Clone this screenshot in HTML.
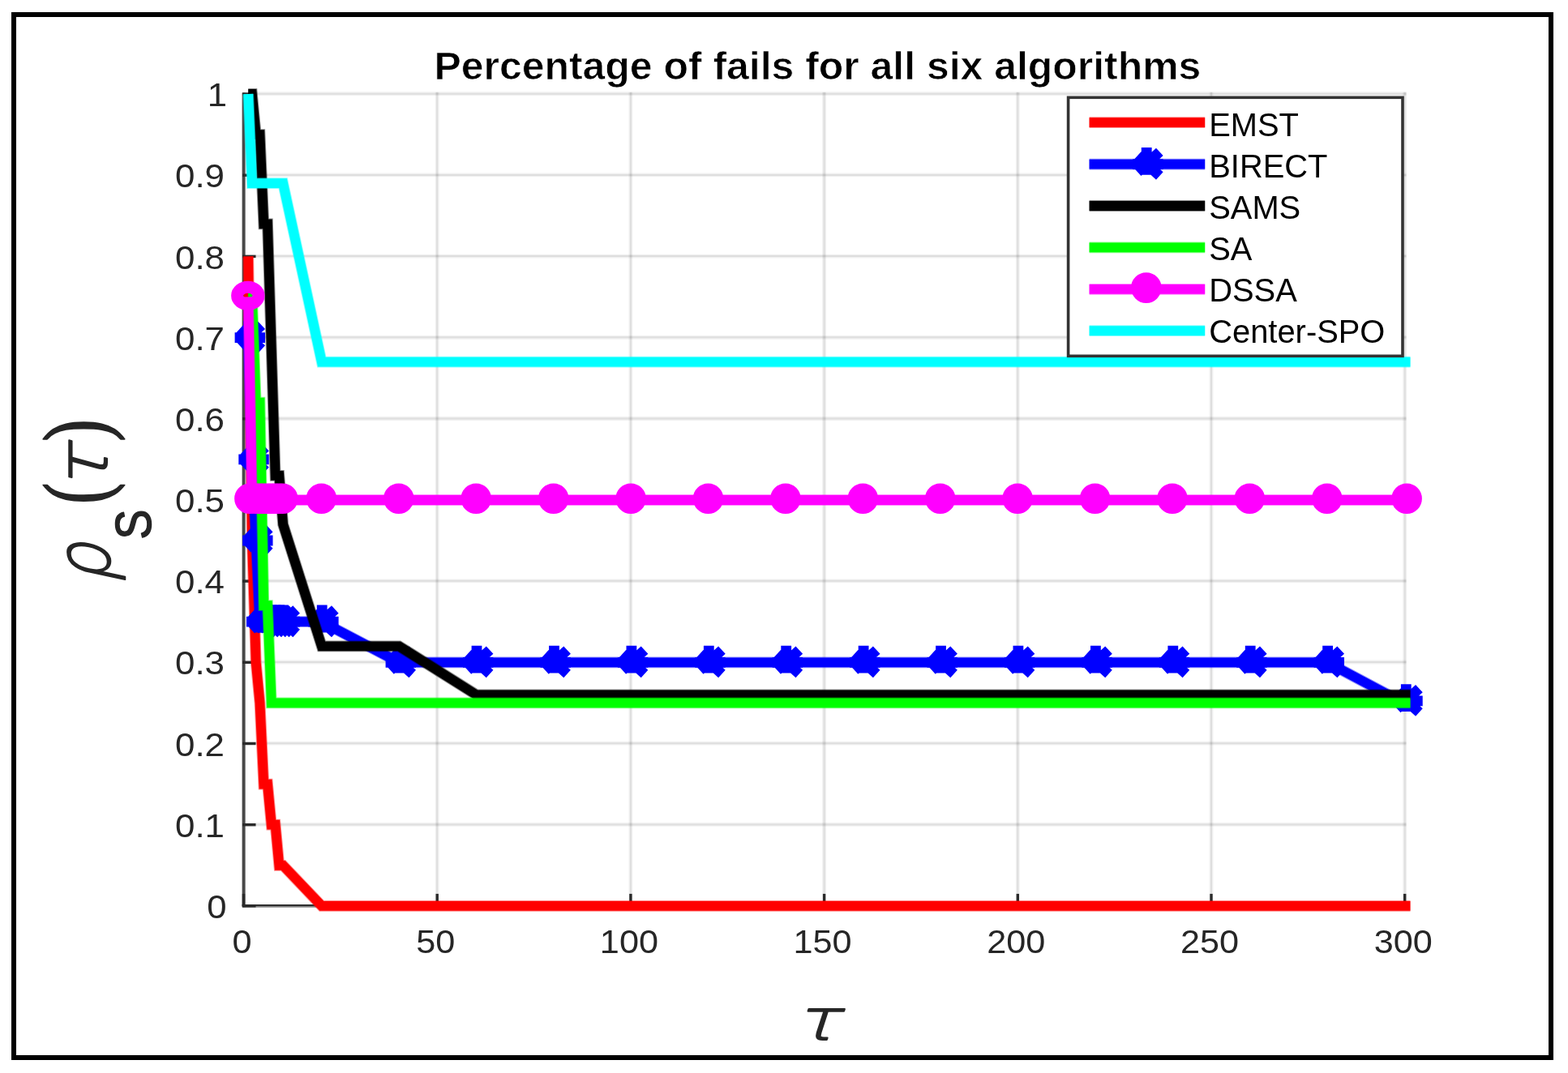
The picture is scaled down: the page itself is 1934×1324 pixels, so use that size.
<!DOCTYPE html>
<html lang="en"><head><meta charset="utf-8">
<title>Percentage of fails for all six algorithms</title>
<style>
html,body{margin:0;padding:0;background:#fff;}
body{width:1934px;height:1324px;overflow:hidden;}
svg{display:block;}
text{font-family:"Liberation Sans",Arial,Helvetica,sans-serif;}
.tick{font-size:40.4px;fill:#262626;}
.leg{font-size:40px;fill:#000;}
.title{font-size:49px;font-weight:bold;fill:#000;stroke:#fff;stroke-width:.7px;}
.ms{font-family:"Liberation Serif","DejaVu Serif",serif;}
.ml{font-family:"DejaVu Sans Light","DejaVu Sans ExtraLight","Liberation Serif","DejaVu Serif",serif;font-weight:200;}
.sub{font-family:"Liberation Sans",Arial,Helvetica,sans-serif;}
.ln{fill:none;stroke-width:13.8;stroke-opacity:.45;stroke-linejoin:miter;stroke-miterlimit:10;stroke-linecap:butt;}
.li{fill:none;stroke-width:11.8;stroke-linejoin:miter;stroke-miterlimit:10;stroke-linecap:butt;}
</style></head><body>
<svg width="1934" height="1324" viewBox="0 0 1934 1324" role="img" aria-label="Percentage of fails for all six algorithms">
<rect x="0" y="0" width="1934" height="1324" fill="#fff"/>
<rect x="17" y="18" width="1896" height="1287" fill="none" stroke="#000" stroke-width="6"/>
<g stroke="#000" stroke-opacity="0.06" stroke-width="4.8" fill="none">
<line x1="539.2" y1="113.8" x2="539.2" y2="1117.9"/>
<line x1="777.9" y1="113.8" x2="777.9" y2="1117.9"/>
<line x1="1016.6" y1="113.8" x2="1016.6" y2="1117.9"/>
<line x1="1255.3" y1="113.8" x2="1255.3" y2="1117.9"/>
<line x1="1494.0" y1="113.8" x2="1494.0" y2="1117.9"/>
<line x1="1732.7" y1="113.8" x2="1732.7" y2="1117.9"/>
<line x1="300.5" y1="1017.4" x2="1734.6" y2="1017.4"/>
<line x1="300.5" y1="917.2" x2="1734.6" y2="917.2"/>
<line x1="300.5" y1="817.0" x2="1734.6" y2="817.0"/>
<line x1="300.5" y1="716.8" x2="1734.6" y2="716.8"/>
<line x1="300.5" y1="616.7" x2="1734.6" y2="616.7"/>
<line x1="300.5" y1="516.5" x2="1734.6" y2="516.5"/>
<line x1="300.5" y1="416.3" x2="1734.6" y2="416.3"/>
<line x1="300.5" y1="316.1" x2="1734.6" y2="316.1"/>
<line x1="300.5" y1="215.9" x2="1734.6" y2="215.9"/>
<line x1="300.5" y1="115.7" x2="1734.6" y2="115.7"/>
</g>
<g stroke="#000" stroke-opacity="0.075" stroke-width="2.0" fill="none">
<line x1="539.2" y1="113.8" x2="539.2" y2="1117.9"/>
<line x1="777.9" y1="113.8" x2="777.9" y2="1117.9"/>
<line x1="1016.6" y1="113.8" x2="1016.6" y2="1117.9"/>
<line x1="1255.3" y1="113.8" x2="1255.3" y2="1117.9"/>
<line x1="1494.0" y1="113.8" x2="1494.0" y2="1117.9"/>
<line x1="1732.7" y1="113.8" x2="1732.7" y2="1117.9"/>
<line x1="300.5" y1="1017.4" x2="1734.6" y2="1017.4"/>
<line x1="300.5" y1="917.2" x2="1734.6" y2="917.2"/>
<line x1="300.5" y1="817.0" x2="1734.6" y2="817.0"/>
<line x1="300.5" y1="716.8" x2="1734.6" y2="716.8"/>
<line x1="300.5" y1="616.7" x2="1734.6" y2="616.7"/>
<line x1="300.5" y1="516.5" x2="1734.6" y2="516.5"/>
<line x1="300.5" y1="416.3" x2="1734.6" y2="416.3"/>
<line x1="300.5" y1="316.1" x2="1734.6" y2="316.1"/>
<line x1="300.5" y1="215.9" x2="1734.6" y2="215.9"/>
<line x1="300.5" y1="115.7" x2="1734.6" y2="115.7"/>
</g>
<line x1="300.6" y1="114.5" x2="300.6" y2="1119.5" stroke="#484848" stroke-width="4"/>
<line x1="298.6" y1="1117.0" x2="1734.5" y2="1117.0" stroke="#2e2e2e" stroke-width="2"/>
<line x1="299.6" y1="1118.8" x2="1734.5" y2="1118.8" stroke="#808080" stroke-width="1.7"/>
<g stroke="#2a2a2a" stroke-width="3.4" fill="none">
<line x1="300.5" y1="1118.9" x2="300.5" y2="1102.9"/>
<line x1="539.2" y1="1118.9" x2="539.2" y2="1102.9"/>
<line x1="777.9" y1="1118.9" x2="777.9" y2="1102.9"/>
<line x1="1016.6" y1="1118.9" x2="1016.6" y2="1102.9"/>
<line x1="1255.3" y1="1118.9" x2="1255.3" y2="1102.9"/>
<line x1="1494.0" y1="1118.9" x2="1494.0" y2="1102.9"/>
<line x1="1732.7" y1="1118.9" x2="1732.7" y2="1102.9"/>
<line x1="299.0" y1="1117.9" x2="315.5" y2="1117.9"/>
<line x1="299.0" y1="1017.7" x2="315.5" y2="1017.7"/>
<line x1="299.0" y1="917.5" x2="315.5" y2="917.5"/>
<line x1="299.0" y1="817.3" x2="315.5" y2="817.3"/>
<line x1="299.0" y1="717.1" x2="315.5" y2="717.1"/>
<line x1="299.0" y1="617.0" x2="315.5" y2="617.0"/>
<line x1="299.0" y1="516.8" x2="315.5" y2="516.8"/>
<line x1="299.0" y1="416.6" x2="315.5" y2="416.6"/>
<line x1="299.0" y1="316.4" x2="315.5" y2="316.4"/>
<line x1="299.0" y1="216.2" x2="315.5" y2="216.2"/>
<line x1="299.0" y1="116.0" x2="315.5" y2="116.0"/>
</g>
<polyline class="ln" stroke="#ff0000" points="306.2,316.4 310.9,667.0 315.7,817.3 320.5,867.4 325.3,967.6 330.0,967.6 334.8,1017.7 339.6,1017.7 344.3,1067.8 349.1,1067.8 396.8,1117.9 1739.5,1117.9"/>
<polyline class="li" stroke="#ff0000" points="306.2,316.4 310.9,667.0 315.7,817.3 320.5,867.4 325.3,967.6 330.0,967.6 334.8,1017.7 339.6,1017.7 344.3,1067.8 349.1,1067.8 396.8,1117.9 1739.5,1117.9"/>
<polyline class="ln" stroke="#0000ff" points="306.2,416.6 310.9,566.9 315.7,667.0 320.5,767.2 396.8,767.2 492.2,817.3 1637.2,817.3 1731.2,867.4"/>
<polyline class="li" stroke="#0000ff" points="306.2,416.6 310.9,566.9 315.7,667.0 320.5,767.2 396.8,767.2 492.2,817.3 1637.2,817.3 1731.2,867.4"/>
<g>
<path d="M306.6 396.0V429.8M289.6 416.6H327.0M295.5 406.1L322.7 430.9M295.5 426.3L322.7 401.4" stroke="#0000ff" stroke-width="12.8" fill="none"/>
<path d="M311.3 546.3V580.1M294.3 566.9H331.7M300.2 556.4L327.4 581.2M300.2 576.6L327.4 551.7" stroke="#0000ff" stroke-width="12.8" fill="none"/>
<path d="M316.1 646.4V680.2M299.1 667.0H336.5M305.0 656.5L332.2 681.3M305.0 676.7L332.2 651.8" stroke="#0000ff" stroke-width="12.8" fill="none"/>
<path d="M320.9 746.6V780.4M303.9 767.2H341.3M309.8 756.7L337.0 781.5M309.8 776.9L337.0 752.0" stroke="#0000ff" stroke-width="12.8" fill="none"/>
<path d="M325.7 746.6V780.4M308.7 767.2H346.1M314.6 756.7L341.8 781.5M314.6 776.9L341.8 752.0" stroke="#0000ff" stroke-width="12.8" fill="none"/>
<path d="M330.4 746.6V780.4M313.4 767.2H350.8M319.3 756.7L346.5 781.5M319.3 776.9L346.5 752.0" stroke="#0000ff" stroke-width="12.8" fill="none"/>
<path d="M335.2 746.6V780.4M318.2 767.2H355.6M324.1 756.7L351.3 781.5M324.1 776.9L351.3 752.0" stroke="#0000ff" stroke-width="12.8" fill="none"/>
<path d="M340.0 746.6V780.4M323.0 767.2H360.4M328.9 756.7L356.1 781.5M328.9 776.9L356.1 752.0" stroke="#0000ff" stroke-width="12.8" fill="none"/>
<path d="M344.7 746.6V780.4M327.7 767.2H365.1M333.6 756.7L360.8 781.5M333.6 776.9L360.8 752.0" stroke="#0000ff" stroke-width="12.8" fill="none"/>
<path d="M349.5 746.6V780.4M332.5 767.2H369.9M338.4 756.7L365.6 781.5M338.4 776.9L365.6 752.0" stroke="#0000ff" stroke-width="12.8" fill="none"/>
<path d="M397.2 746.6V780.4M380.2 767.2H417.6M386.1 756.7L413.3 781.5M386.1 776.9L413.3 752.0" stroke="#0000ff" stroke-width="12.8" fill="none"/>
<path d="M492.6 796.7V830.5M475.6 817.3H513.0M481.5 806.8L508.7 831.6M481.5 827.0L508.7 802.1" stroke="#0000ff" stroke-width="12.8" fill="none"/>
<path d="M588.0 796.7V830.5M571.0 817.3H608.4M576.9 806.8L604.1 831.6M576.9 827.0L604.1 802.1" stroke="#0000ff" stroke-width="12.8" fill="none"/>
<path d="M683.5 796.7V830.5M666.5 817.3H703.9M672.4 806.8L699.6 831.6M672.4 827.0L699.6 802.1" stroke="#0000ff" stroke-width="12.8" fill="none"/>
<path d="M778.9 796.7V830.5M761.9 817.3H799.3M767.8 806.8L795.0 831.6M767.8 827.0L795.0 802.1" stroke="#0000ff" stroke-width="12.8" fill="none"/>
<path d="M874.3 796.7V830.5M857.3 817.3H894.7M863.2 806.8L890.4 831.6M863.2 827.0L890.4 802.1" stroke="#0000ff" stroke-width="12.8" fill="none"/>
<path d="M969.7 796.7V830.5M952.7 817.3H990.1M958.6 806.8L985.8 831.6M958.6 827.0L985.8 802.1" stroke="#0000ff" stroke-width="12.8" fill="none"/>
<path d="M1065.1 796.7V830.5M1048.1 817.3H1085.5M1054.0 806.8L1081.2 831.6M1054.0 827.0L1081.2 802.1" stroke="#0000ff" stroke-width="12.8" fill="none"/>
<path d="M1160.5 796.7V830.5M1143.5 817.3H1180.9M1149.4 806.8L1176.6 831.6M1149.4 827.0L1176.6 802.1" stroke="#0000ff" stroke-width="12.8" fill="none"/>
<path d="M1255.9 796.7V830.5M1238.9 817.3H1276.3M1244.8 806.8L1272.0 831.6M1244.8 827.0L1272.0 802.1" stroke="#0000ff" stroke-width="12.8" fill="none"/>
<path d="M1351.4 796.7V830.5M1334.4 817.3H1371.8M1340.3 806.8L1367.5 831.6M1340.3 827.0L1367.5 802.1" stroke="#0000ff" stroke-width="12.8" fill="none"/>
<path d="M1446.8 796.7V830.5M1429.8 817.3H1467.2M1435.7 806.8L1462.9 831.6M1435.7 827.0L1462.9 802.1" stroke="#0000ff" stroke-width="12.8" fill="none"/>
<path d="M1542.2 796.7V830.5M1525.2 817.3H1562.6M1531.1 806.8L1558.3 831.6M1531.1 827.0L1558.3 802.1" stroke="#0000ff" stroke-width="12.8" fill="none"/>
<path d="M1637.6 796.7V830.5M1620.6 817.3H1658.0M1626.5 806.8L1653.7 831.6M1626.5 827.0L1653.7 802.1" stroke="#0000ff" stroke-width="12.8" fill="none"/>
<path d="M1734.3 844.2V878.0M1717.3 864.8H1754.7M1723.2 854.3L1750.4 879.1M1723.2 874.5L1750.4 849.6" stroke="#0000ff" stroke-width="12.8" fill="none"/>
</g>
<polyline class="ln" stroke="#000000" points="306.2,116.0 310.9,116.0 315.7,166.1 320.5,166.1 325.3,276.3 330.0,276.3 334.8,431.6 339.6,586.9 344.3,586.9 349.1,647.0 396.8,797.3 492.2,797.3 587.6,857.4 1739.5,857.4"/>
<polyline class="li" stroke="#000000" points="306.2,116.0 310.9,116.0 315.7,166.1 320.5,166.1 325.3,276.3 330.0,276.3 334.8,431.6 339.6,586.9 344.3,586.9 349.1,647.0 396.8,797.3 492.2,797.3 587.6,857.4 1739.5,857.4"/>
<polyline class="ln" stroke="#00ff00" points="306.2,366.5 310.9,366.5 315.7,496.7 320.5,496.7 325.3,747.2 330.0,747.2 334.8,867.4 1739.5,867.4"/>
<polyline class="li" stroke="#00ff00" points="306.2,366.5 310.9,366.5 315.7,496.7 320.5,496.7 325.3,747.2 330.0,747.2 334.8,867.4 1739.5,867.4"/>
<polyline class="ln" stroke="#ff00ff" points="306.2,366.5 310.9,617.0 1739.5,617.0"/>
<polyline class="li" stroke="#ff00ff" points="306.2,366.5 310.9,617.0 1739.5,617.0"/>
<g>
<ellipse cx="305.8" cy="364.8" rx="13.2" ry="10.6" fill="none" stroke="#ff00ff" stroke-width="15"/>
<circle cx="307.9" cy="615.2" r="10.6" fill="none" stroke="#ff00ff" stroke-width="16.4"/>
<circle cx="315.3" cy="615.2" r="10.6" fill="none" stroke="#ff00ff" stroke-width="16.4"/>
<circle cx="320.1" cy="615.2" r="10.6" fill="none" stroke="#ff00ff" stroke-width="16.4"/>
<circle cx="324.9" cy="615.2" r="10.6" fill="none" stroke="#ff00ff" stroke-width="16.4"/>
<circle cx="329.6" cy="615.2" r="10.6" fill="none" stroke="#ff00ff" stroke-width="16.4"/>
<circle cx="334.4" cy="615.2" r="10.6" fill="none" stroke="#ff00ff" stroke-width="16.4"/>
<circle cx="339.2" cy="615.2" r="10.6" fill="none" stroke="#ff00ff" stroke-width="16.4"/>
<circle cx="343.9" cy="615.2" r="10.6" fill="none" stroke="#ff00ff" stroke-width="16.4"/>
<circle cx="348.7" cy="615.2" r="10.6" fill="none" stroke="#ff00ff" stroke-width="16.4"/>
<circle cx="396.4" cy="615.2" r="10.6" fill="none" stroke="#ff00ff" stroke-width="16.4"/>
<circle cx="491.8" cy="615.2" r="10.6" fill="none" stroke="#ff00ff" stroke-width="16.4"/>
<circle cx="587.2" cy="615.2" r="10.6" fill="none" stroke="#ff00ff" stroke-width="16.4"/>
<circle cx="682.7" cy="615.2" r="10.6" fill="none" stroke="#ff00ff" stroke-width="16.4"/>
<circle cx="778.1" cy="615.2" r="10.6" fill="none" stroke="#ff00ff" stroke-width="16.4"/>
<circle cx="873.5" cy="615.2" r="10.6" fill="none" stroke="#ff00ff" stroke-width="16.4"/>
<circle cx="968.9" cy="615.2" r="10.6" fill="none" stroke="#ff00ff" stroke-width="16.4"/>
<circle cx="1064.3" cy="615.2" r="10.6" fill="none" stroke="#ff00ff" stroke-width="16.4"/>
<circle cx="1159.7" cy="615.2" r="10.6" fill="none" stroke="#ff00ff" stroke-width="16.4"/>
<circle cx="1255.1" cy="615.2" r="10.6" fill="none" stroke="#ff00ff" stroke-width="16.4"/>
<circle cx="1350.6" cy="615.2" r="10.6" fill="none" stroke="#ff00ff" stroke-width="16.4"/>
<circle cx="1446.0" cy="615.2" r="10.6" fill="none" stroke="#ff00ff" stroke-width="16.4"/>
<circle cx="1541.4" cy="615.2" r="10.6" fill="none" stroke="#ff00ff" stroke-width="16.4"/>
<circle cx="1636.8" cy="615.2" r="10.6" fill="none" stroke="#ff00ff" stroke-width="16.4"/>
<circle cx="1735.1" cy="615.2" r="10.6" fill="none" stroke="#ff00ff" stroke-width="16.4"/>
</g>
<polyline class="ln" stroke="#00ffff" points="306.2,116.0 310.9,226.2 349.1,226.2 396.8,446.6 1739.5,446.6"/>
<polyline class="li" stroke="#00ffff" points="306.2,116.0 310.9,226.2 349.1,226.2 396.8,446.6 1739.5,446.6"/>
<rect x="1317.6" y="120.3" width="412.4" height="319.0" fill="#fff" stroke="#333" stroke-width="3.6"/>
<path class="ln" d="M1343.6 151.2H1486.2" stroke="#ff0000"/>
<path class="li" d="M1343.6 151.2H1486.2" stroke="#ff0000"/>
<text class="leg" transform="translate(1491.2 168.0) scale(0.997 1)" text-anchor="start">EMST</text>
<path class="ln" d="M1343.6 202.6H1486.2" stroke="#0000ff"/>
<path class="li" d="M1343.6 202.6H1486.2" stroke="#0000ff"/>
<path d="M1414.2 182.0V215.8M1397.2 202.6H1434.6M1403.1 192.1L1430.3 216.9M1403.1 212.3L1430.3 187.4" stroke="#0000ff" stroke-width="12.8" fill="none"/>
<text class="leg" transform="translate(1491.2 219.0) scale(0.997 1)" text-anchor="start">BIRECT</text>
<path class="ln" d="M1343.6 254.0H1486.2" stroke="#000000"/>
<path class="li" d="M1343.6 254.0H1486.2" stroke="#000000"/>
<text class="leg" transform="translate(1491.2 270.0) scale(0.997 1)" text-anchor="start">SAMS</text>
<path class="ln" d="M1343.6 305.4H1486.2" stroke="#00ff00"/>
<path class="li" d="M1343.6 305.4H1486.2" stroke="#00ff00"/>
<text class="leg" transform="translate(1491.2 321.0) scale(0.997 1)" text-anchor="start">SA</text>
<path class="ln" d="M1343.6 356.8H1486.2" stroke="#ff00ff"/>
<path class="li" d="M1343.6 356.8H1486.2" stroke="#ff00ff"/>
<circle cx="1413.8" cy="355.1" r="10.6" fill="none" stroke="#ff00ff" stroke-width="16.4"/>
<text class="leg" transform="translate(1491.2 372.0) scale(0.997 1)" text-anchor="start">DSSA</text>
<path class="ln" d="M1343.6 408.2H1486.2" stroke="#00ffff"/>
<path class="li" d="M1343.6 408.2H1486.2" stroke="#00ffff"/>
<text class="leg" transform="translate(1491.2 423.0) scale(0.997 1)" text-anchor="start">Center-SPO</text>
<text class="title" transform="translate(1008.4 97.8) scale(1.019 1)" text-anchor="middle">Percentage of fails for all six algorithms</text>
<text class="tick" transform="translate(279.4 1133.0) scale(1.080 1)" text-anchor="end">0</text>
<text class="tick" transform="translate(277.0 1032.8) scale(1.085 1)" text-anchor="end">0.1</text>
<text class="tick" transform="translate(277.0 932.6) scale(1.085 1)" text-anchor="end">0.2</text>
<text class="tick" transform="translate(277.0 832.4) scale(1.085 1)" text-anchor="end">0.3</text>
<text class="tick" transform="translate(277.0 732.2) scale(1.085 1)" text-anchor="end">0.4</text>
<text class="tick" transform="translate(277.0 632.1) scale(1.085 1)" text-anchor="end">0.5</text>
<text class="tick" transform="translate(277.0 531.9) scale(1.085 1)" text-anchor="end">0.6</text>
<text class="tick" transform="translate(277.0 431.7) scale(1.085 1)" text-anchor="end">0.7</text>
<text class="tick" transform="translate(277.0 331.5) scale(1.085 1)" text-anchor="end">0.8</text>
<text class="tick" transform="translate(277.0 231.3) scale(1.085 1)" text-anchor="end">0.9</text>
<text class="tick" transform="translate(280.0 131.1) scale(1.080 1)" text-anchor="end">1</text>
<text class="tick" transform="translate(298.5 1175.6) scale(1.070 1)" text-anchor="middle">0</text>
<text class="tick" transform="translate(537.2 1175.6) scale(1.070 1)" text-anchor="middle">50</text>
<text class="tick" transform="translate(775.9 1175.6) scale(1.070 1)" text-anchor="middle">100</text>
<text class="tick" transform="translate(1014.6 1175.6) scale(1.070 1)" text-anchor="middle">150</text>
<text class="tick" transform="translate(1253.3 1175.6) scale(1.070 1)" text-anchor="middle">200</text>
<text class="tick" transform="translate(1492.0 1175.6) scale(1.070 1)" text-anchor="middle">250</text>
<text class="tick" transform="translate(1730.7 1175.6) scale(1.070 1)" text-anchor="middle">300</text>
<text class="ml" transform="translate(980.0 1282.6) scale(1.304 1)" font-size="69.6" font-style="italic" stroke="#262626" stroke-width="2.0" stroke-linejoin="round" fill="#262626">τ</text>
<g transform="translate(133.4 714.7) rotate(-90)">
<text class="ml" transform="translate(-5.3 2.0) scale(0.850 1)" font-size="92.7" font-style="italic" stroke="#262626" stroke-width="2.0" stroke-linejoin="round" fill="#262626">ρ</text>
<text class="sub" transform="translate(49.3 52.1) scale(0.875 1)" font-size="63.0" stroke="#262626" stroke-width="1.5" stroke-linejoin="round" fill="#262626">S</text>
<text class="ms" transform="translate(93.2 -3.6) scale(0.700 1)" font-size="109.5" stroke="#262626" stroke-width="2.2" stroke-linejoin="round" fill="#262626">(</text>
<text class="ml" transform="translate(108.4 -1.0) scale(1.084 1)" font-size="85.5" font-style="italic" stroke="#262626" stroke-width="2.0" stroke-linejoin="round" fill="#262626">τ</text>
<text class="ms" transform="translate(170.2 -3.6) scale(0.740 1)" font-size="109.5" stroke="#262626" stroke-width="2.2" stroke-linejoin="round" fill="#262626">)</text>
</g>
</svg>
</body></html>
